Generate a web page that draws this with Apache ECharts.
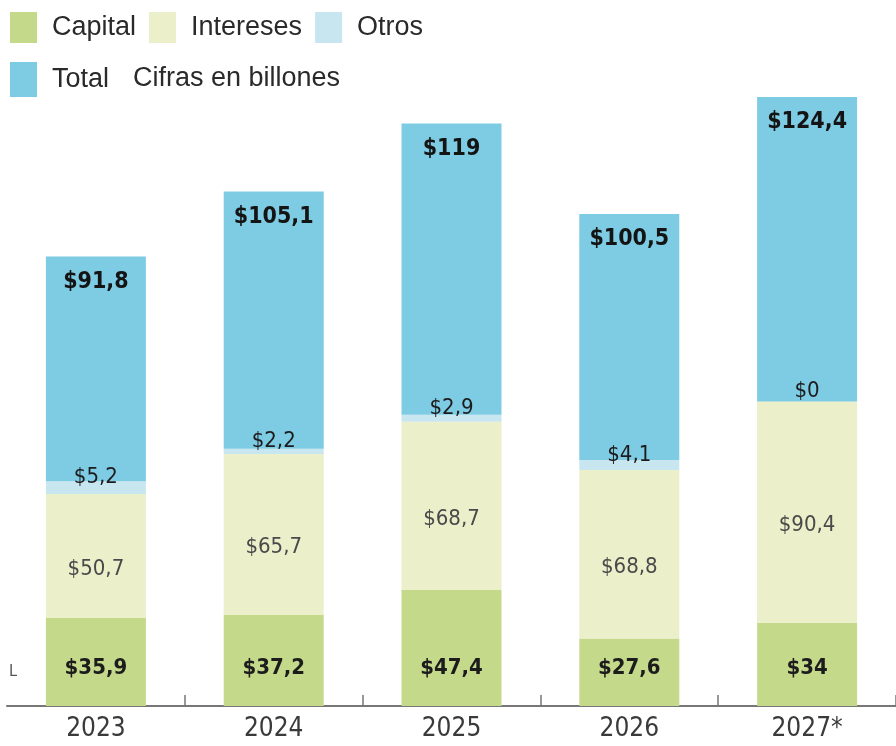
<!DOCTYPE html>
<html>
<head>
<meta charset="utf-8">
<script src="https://cdn.jsdelivr.net/npm/echarts@6/dist/echarts.min.js"></script>
<style>
html,body{margin:0;padding:0;background:#fff;}
#chart{width:896px;height:746px;}
</style>
</head>
<body>
<div id="chart"></div>
<script>
var years = ['2023', '2024', '2025', '2026', '2027*'];
var capital = [35.9, 37.2, 47.4, 27.6, 34];
var intereses = [50.7, 65.7, 68.7, 68.8, 90.4];
var otros = [5.2, 2.2, 2.9, 4.1, 0];
var total = [91.8, 105.1, 119, 100.5, 124.4];
var seriesNames = ['Capital', 'Intereses', 'Otros', 'Total'];
var unitNote = 'Cifras en billones';

var NARROW = '"Liberation Sans Narrow", "Arial Narrow", "DejaVu Sans Condensed", "Liberation Sans", sans-serif';
var REG = '"Liberation Sans", Arial, sans-serif';
var C_CAP = '#c5d98b', C_INT = '#ebefca', C_OTR = '#c8e6f0', C_TOT = '#7ecbe4';

function fmt(v){ return '$' + String(v).replace('.', ','); }

var chart = echarts.init(document.getElementById('chart'), null, {renderer: 'canvas'});
chart.setOption({
  animation: false,
  backgroundColor: '#ffffff',
  legend: [
    {
      data: seriesNames.slice(0, 3),
      left: 10, top: 12, padding: 0,
      icon: 'rect', itemWidth: 27, itemHeight: 31, itemGap: 13,
      selectedMode: false,
      textStyle: {fontFamily: REG, fontSize: 27, color: '#2a2a2a', padding: [0, 0, 0, 10]}
    },
    {
      data: [seriesNames[3]],
      left: 10, top: 62, padding: 0,
      icon: 'rect', itemWidth: 27, itemHeight: 35,
      selectedMode: false,
      textStyle: {fontFamily: REG, fontSize: 27, color: '#2a2a2a', padding: [0, 0, 0, 10]}
    }
  ],
  graphic: [
    {type: 'text', left: 133, top: 65, style: {text: unitNote, font: '27px ' + REG, fill: '#2a2a2a'}},
    {type: 'text', left: 9, top: 664, style: {text: 'L', font: '16px ' + NARROW, fill: '#555'}}
  ],
  grid: {left: 7, right: -6, top: 20.6, bottom: 40, containLabel: false},
  xAxis: {
    type: 'category',
    data: years,
    boundaryGap: true,
    axisLine: {show: true, lineStyle: {color: '#777', width: 2}},
    axisTick: {show: true, inside: true, length: 11, lineStyle: {color: '#777', width: 1.5},
      interval: function(i){ return i !== 0; }},
    axisLabel: {fontFamily: NARROW, fontSize: 26, color: '#3a3a3a', margin: 10}
  },
  yAxis: {
    type: 'value', min: 0, max: 280, show: false, splitLine: {show: false}
  },
  series: [
    {
      name: 'Capital', type: 'bar', stack: 's', data: capital, barWidth: 100,
      itemStyle: {color: C_CAP},
      label: {show: true, position: 'insideBottom', distance: 27, formatter: function(p){return fmt(p.value);},
        fontFamily: NARROW, fontSize: 22, fontWeight: 'bold', color: '#1c1c1c'}
    },
    {
      name: 'Intereses', type: 'bar', stack: 's', data: intereses, barWidth: 100,
      itemStyle: {color: C_INT},
      label: {show: true, position: 'inside', offset: [0, 13], formatter: function(p){return fmt(p.value);},
        fontFamily: NARROW, fontSize: 22, color: '#4a4a4a'}
    },
    {
      name: 'Otros', type: 'bar', stack: 's', data: otros, barWidth: 100,
      itemStyle: {color: C_OTR},
      label: {show: true, position: 'inside', offset: [0, -10], formatter: function(p){return fmt(p.value);},
        fontFamily: NARROW, fontSize: 22, color: '#1c1c1c'}
    },
    {
      name: 'Total', type: 'bar', stack: 's', data: total, barWidth: 100,
      itemStyle: {color: C_TOT},
      label: {show: true, position: 'insideTop', distance: 14, formatter: function(p){return fmt(p.value);},
        fontFamily: NARROW, fontSize: 23, fontWeight: 'bold', color: '#141414'}
    }
  ]
});
</script>
</body>
</html>
